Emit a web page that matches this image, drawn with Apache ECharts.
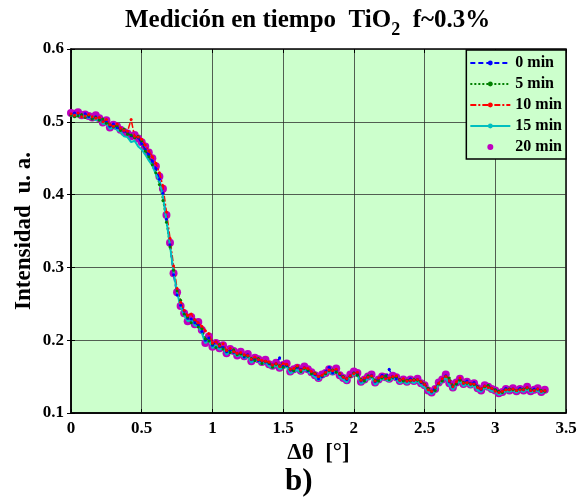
<!DOCTYPE html>
<html>
<head>
    <meta charset="UTF-8">
    <title>Medición en tiempo TiO2</title>
    <script src="https://cdn.jsdelivr.net/npm/echarts@6/dist/echarts.min.js"></script>
    <style>
        html, body { margin: 0; padding: 0; background: #fff; }
        #chart { width: 581px; height: 504px; }
    </style>
</head>
<body>
<div id="chart"></div>
<script>
    // eje x: delta theta en grados
    var deltaTheta = [
        0.000, 0.025, 0.050, 0.075, 0.100, 0.125, 0.150, 0.175, 0.200, 0.225,
        0.250, 0.275, 0.300, 0.325, 0.350, 0.375, 0.400, 0.425, 0.450, 0.475,
        0.500, 0.525, 0.550, 0.575, 0.600, 0.625, 0.650, 0.675, 0.700, 0.725,
        0.750, 0.775, 0.800, 0.825, 0.850, 0.875, 0.900, 0.925, 0.950, 0.975,
        1.000, 1.025, 1.050, 1.075, 1.100, 1.125, 1.150, 1.175, 1.200, 1.225,
        1.250, 1.275, 1.300, 1.325, 1.350, 1.375, 1.400, 1.425, 1.450, 1.475,
        1.500, 1.525, 1.550, 1.575, 1.600, 1.625, 1.650, 1.675, 1.700, 1.725,
        1.750, 1.775, 1.800, 1.825, 1.850, 1.875, 1.900, 1.925, 1.950, 1.975,
        2.000, 2.025, 2.050, 2.075, 2.100, 2.125, 2.150, 2.175, 2.200, 2.225,
        2.250, 2.275, 2.300, 2.325, 2.350, 2.375, 2.400, 2.425, 2.450, 2.475,
        2.500, 2.525, 2.550, 2.575, 2.600, 2.625, 2.650, 2.675, 2.700, 2.725,
        2.750, 2.775, 2.800, 2.825, 2.850, 2.875, 2.900, 2.925, 2.950, 2.975,
        3.000, 3.025, 3.050, 3.075, 3.100, 3.125, 3.150, 3.175, 3.200, 3.225,
        3.250, 3.275, 3.300, 3.325, 3.350
    ];

    var min0 = [
        0.510, 0.512, 0.511, 0.508, 0.511, 0.507, 0.505, 0.507, 0.503, 0.501,
        0.500, 0.494, 0.497, 0.492, 0.490, 0.487, 0.486, 0.481, 0.479, 0.478,
        0.470, 0.462, 0.455, 0.446, 0.436, 0.421, 0.402, 0.366, 0.331, 0.290,
        0.262, 0.248, 0.240, 0.230, 0.229, 0.224, 0.221, 0.212, 0.200, 0.203,
        0.193, 0.198, 0.191, 0.190, 0.184, 0.186, 0.183, 0.181, 0.182, 0.177,
        0.180, 0.173, 0.174, 0.172, 0.171, 0.170, 0.168, 0.166, 0.168, 0.176,
        0.164, 0.165, 0.159, 0.158, 0.163, 0.160, 0.162, 0.158, 0.155, 0.153,
        0.147, 0.150, 0.157, 0.163, 0.155, 0.158, 0.153, 0.149, 0.146, 0.151,
        0.155, 0.154, 0.144, 0.147, 0.149, 0.152, 0.143, 0.147, 0.152, 0.148,
        0.160, 0.149, 0.147, 0.145, 0.146, 0.144, 0.147, 0.145, 0.146, 0.142,
        0.139, 0.133, 0.129, 0.134, 0.141, 0.145, 0.151, 0.143, 0.136, 0.140,
        0.146, 0.141, 0.144, 0.140, 0.142, 0.136, 0.132, 0.137, 0.137, 0.134,
        0.132, 0.129, 0.130, 0.134, 0.132, 0.133, 0.131, 0.134, 0.132, 0.135,
        0.131, 0.133, 0.133, 0.130, 0.131
    ];

    var min5 = [
        0.509, 0.507, 0.508, 0.510, 0.506, 0.509, 0.504, 0.506, 0.502, 0.504,
        0.498, 0.496, 0.493, 0.495, 0.488, 0.490, 0.483, 0.482, 0.478, 0.480,
        0.474, 0.460, 0.452, 0.441, 0.430, 0.414, 0.392, 0.362, 0.328, 0.296,
        0.268, 0.255, 0.236, 0.232, 0.224, 0.228, 0.218, 0.216, 0.202, 0.199,
        0.195, 0.190, 0.194, 0.188, 0.186, 0.183, 0.187, 0.180, 0.181, 0.179,
        0.178, 0.175, 0.172, 0.175, 0.168, 0.171, 0.169, 0.163, 0.167, 0.165,
        0.163, 0.166, 0.160, 0.158, 0.164, 0.157, 0.161, 0.159, 0.154, 0.155,
        0.150, 0.151, 0.154, 0.158, 0.159, 0.156, 0.154, 0.150, 0.147, 0.150,
        0.155, 0.152, 0.146, 0.144, 0.151, 0.150, 0.145, 0.144, 0.148, 0.151,
        0.146, 0.149, 0.150, 0.146, 0.144, 0.145, 0.144, 0.146, 0.145, 0.143,
        0.140, 0.134, 0.130, 0.131, 0.140, 0.144, 0.150, 0.148, 0.137, 0.140,
        0.145, 0.142, 0.141, 0.140, 0.139, 0.136, 0.133, 0.136, 0.138, 0.134,
        0.132, 0.130, 0.128, 0.132, 0.133, 0.132, 0.131, 0.132, 0.133, 0.134,
        0.132, 0.131, 0.133, 0.131, 0.130
    ];

    var min10 = [
        0.511, 0.509, 0.512, 0.507, 0.508, 0.510, 0.507, 0.505, 0.506, 0.500,
        0.503, 0.496, 0.494, 0.497, 0.491, 0.488, 0.487, 0.503, 0.480, 0.479,
        0.476, 0.468, 0.460, 0.452, 0.443, 0.430, 0.412, 0.376, 0.340, 0.302,
        0.271, 0.252, 0.241, 0.234, 0.236, 0.228, 0.224, 0.219, 0.213, 0.209,
        0.196, 0.198, 0.192, 0.195, 0.186, 0.189, 0.184, 0.182, 0.183, 0.180,
        0.179, 0.174, 0.177, 0.173, 0.172, 0.171, 0.170, 0.166, 0.168, 0.164,
        0.168, 0.167, 0.160, 0.161, 0.165, 0.159, 0.162, 0.161, 0.157, 0.154,
        0.150, 0.152, 0.156, 0.159, 0.158, 0.160, 0.154, 0.149, 0.147, 0.151,
        0.154, 0.156, 0.145, 0.148, 0.149, 0.151, 0.144, 0.148, 0.150, 0.147,
        0.148, 0.150, 0.151, 0.145, 0.147, 0.144, 0.145, 0.145, 0.146, 0.143,
        0.139, 0.132, 0.130, 0.135, 0.141, 0.147, 0.150, 0.144, 0.136, 0.143,
        0.148, 0.141, 0.142, 0.140, 0.140, 0.135, 0.133, 0.137, 0.135, 0.134,
        0.130, 0.128, 0.130, 0.132, 0.132, 0.133, 0.131, 0.132, 0.132, 0.135,
        0.131, 0.131, 0.133, 0.130, 0.131
    ];

    var min15 = [
        0.510, 0.508, 0.510, 0.506, 0.509, 0.505, 0.507, 0.502, 0.504, 0.497,
        0.498, 0.490, 0.493, 0.489, 0.486, 0.480, 0.479, 0.472, 0.474, 0.466,
        0.462, 0.455, 0.447, 0.440, 0.428, 0.418, 0.398, 0.364, 0.330, 0.294,
        0.266, 0.246, 0.234, 0.226, 0.228, 0.220, 0.219, 0.210, 0.196, 0.200,
        0.189, 0.193, 0.187, 0.189, 0.180, 0.185, 0.182, 0.178, 0.180, 0.175,
        0.178, 0.169, 0.173, 0.171, 0.167, 0.170, 0.164, 0.162, 0.166, 0.160,
        0.162, 0.164, 0.154, 0.157, 0.159, 0.155, 0.160, 0.157, 0.153, 0.149,
        0.145, 0.150, 0.152, 0.157, 0.153, 0.158, 0.149, 0.146, 0.142, 0.150,
        0.153, 0.152, 0.140, 0.143, 0.147, 0.150, 0.139, 0.143, 0.147, 0.146,
        0.144, 0.148, 0.146, 0.141, 0.143, 0.140, 0.143, 0.141, 0.144, 0.138,
        0.135, 0.129, 0.126, 0.130, 0.139, 0.143, 0.149, 0.138, 0.132, 0.139,
        0.144, 0.137, 0.140, 0.136, 0.138, 0.131, 0.129, 0.135, 0.133, 0.130,
        0.129, 0.125, 0.127, 0.130, 0.129, 0.131, 0.128, 0.131, 0.129, 0.133,
        0.128, 0.130, 0.131, 0.127, 0.130
    ];

    var min20 = [
        0.512, 0.511, 0.513, 0.509, 0.510, 0.508, 0.506, 0.509, 0.505, 0.499,
        0.502, 0.492, 0.496, 0.494, 0.489, 0.486, 0.484, 0.480, 0.482, 0.477,
        0.472, 0.466, 0.458, 0.450, 0.439, 0.425, 0.408, 0.372, 0.334, 0.292,
        0.266, 0.247, 0.237, 0.226, 0.232, 0.222, 0.225, 0.214, 0.196, 0.205,
        0.191, 0.196, 0.189, 0.193, 0.182, 0.188, 0.185, 0.179, 0.184, 0.178,
        0.181, 0.171, 0.176, 0.174, 0.170, 0.173, 0.167, 0.165, 0.169, 0.162,
        0.166, 0.168, 0.157, 0.160, 0.162, 0.158, 0.164, 0.160, 0.156, 0.152,
        0.148, 0.153, 0.155, 0.160, 0.157, 0.161, 0.152, 0.148, 0.145, 0.153,
        0.157, 0.155, 0.143, 0.146, 0.150, 0.153, 0.142, 0.146, 0.150, 0.149,
        0.147, 0.151, 0.149, 0.144, 0.146, 0.143, 0.146, 0.144, 0.147, 0.141,
        0.138, 0.131, 0.128, 0.133, 0.142, 0.146, 0.153, 0.141, 0.135, 0.142,
        0.147, 0.140, 0.143, 0.139, 0.141, 0.134, 0.131, 0.138, 0.136, 0.133,
        0.131, 0.127, 0.129, 0.133, 0.131, 0.134, 0.130, 0.133, 0.131, 0.136,
        0.130, 0.132, 0.134, 0.129, 0.132
    ];

    var seriesNames = ['0 min', '5 min', '10 min', '15 min', '20 min'];

    function pairs(ys) {
        var out = [];
        for (var i = 0; i < deltaTheta.length; i++) {
            out.push([deltaTheta[i], ys[i]]);
        }
        return out;
    }

    var serif = 'Liberation Serif';
    var lblStyle = {fontFamily: serif, fontWeight: 'bold', fontSize: 17, color: '#000', margin: 7};

    var myChart = echarts.init(document.getElementById('chart'));

    var option = {
        animation: false,
        backgroundColor: '#fff',
        title: {
            left: 120,
            top: 3,
            text: '{t|Medición en tiempo  TiO}{s|2}{t|  f~0.3%}',
            textStyle: {
                rich: {
                    t: {fontFamily: serif, fontWeight: 'bold', fontSize: 25, color: '#000', verticalAlign: 'top'},
                    s: {fontFamily: serif, fontWeight: 'bold', fontSize: 18, color: '#000', verticalAlign: 'bottom', padding: [13, 0, 0, 0]}
                }
            }
        },
        grid: {
            left: 71, right: 15, top: 49, bottom: 91,
            show: true,
            backgroundColor: '#ccffcc',
            borderColor: '#000',
            borderWidth: 1.5
        },
        legend: {
            orient: 'vertical',
            right: 15,
            top: 50,
            data: seriesNames,
            backgroundColor: '#ccffcc',
            borderColor: '#000',
            borderWidth: 1.5,
            borderRadius: 0,
            padding: [5, 4, 4, 3],
            itemWidth: 40,
            itemHeight: 6,
            itemGap: 5,
            textStyle: {fontFamily: serif, fontWeight: 'bold', fontSize: 16, color: '#000', lineHeight: 16}
        },
        xAxis: [{
            type: 'value',
            min: 0, max: 3.5, interval: 0.5,
            name: 'Δθ  [°]',
            nameLocation: 'middle',
            nameGap: 28,
            nameTextStyle: {fontFamily: serif, fontWeight: 'bold', fontSize: 23, color: '#000'},
            axisLine: {show: true, lineStyle: {color: '#000', width: 1.5}},
            axisTick: {show: true, inside: true, length: 4, lineStyle: {color: '#000'}},
            axisLabel: lblStyle,
            splitLine: {show: true, lineStyle: {color: 'rgba(40,40,40,0.75)', width: 1}}
        }, {
            type: 'value', position: 'top',
            min: 0, max: 3.5, interval: 0.5,
            axisLine: {show: false},
            axisTick: {show: true, inside: true, length: 4, lineStyle: {color: '#000'}},
            axisLabel: {show: false},
            splitLine: {show: false}
        }],
        yAxis: [{
            type: 'value',
            min: 0.1, max: 0.6, interval: 0.1,
            name: 'Intensidad  u. a.',
            nameLocation: 'middle',
            nameGap: 35,
            nameMoveOverlap: false,
            nameTextStyle: {fontFamily: serif, fontWeight: 'bold', fontSize: 23, color: '#000'},
            axisLine: {show: true, lineStyle: {color: '#000', width: 1.5}},
            axisTick: {show: true, inside: true, length: 4, lineStyle: {color: '#000'}},
            axisLabel: lblStyle,
            splitLine: {show: true, lineStyle: {color: 'rgba(40,40,40,0.75)', width: 1}}
        }, {
            type: 'value', position: 'right',
            min: 0.1, max: 0.6, interval: 0.1,
            axisLine: {show: false},
            axisTick: {show: true, inside: true, length: 4, lineStyle: {color: '#000'}},
            axisLabel: {show: false},
            splitLine: {show: false}
        }],
        graphic: [{
            type: 'text',
            left: 285,
            top: 466,
            style: {text: 'b)', fontFamily: serif, fontWeight: 'bold', fontSize: 31, fill: '#000'}
        }],
        series: [{
            name: seriesNames[0], type: 'line', data: pairs(min0),
            symbol: 'circle', symbolSize: 3, showAllSymbol: true,
            itemStyle: {color: '#0000ff'},
            lineStyle: {color: '#0000ff', width: 1.5, type: [5, 3]}
        }, {
            name: seriesNames[1], type: 'line', data: pairs(min5),
            symbol: 'circle', symbolSize: 3, showAllSymbol: true,
            itemStyle: {color: '#008000'},
            lineStyle: {color: '#008000', width: 1.5, type: [2, 2]}
        }, {
            name: seriesNames[2], type: 'line', data: pairs(min10),
            symbol: 'circle', symbolSize: 3, showAllSymbol: true,
            itemStyle: {color: '#ff0000'},
            lineStyle: {color: '#ff0000', width: 1.5, type: [6, 2, 2, 2]}
        }, {
            name: seriesNames[3], type: 'line', data: pairs(min15),
            symbol: 'none',
            itemStyle: {color: '#00bfbf'},
            lineStyle: {color: '#00bfbf', width: 2}
        }, {
            name: seriesNames[4], type: 'scatter', data: pairs(min20),
            symbol: 'circle', symbolSize: 8,
            itemStyle: {color: '#bf00bf', opacity: 1}
        }]
    };

    myChart.setOption(option);
</script>
</body>
</html>
